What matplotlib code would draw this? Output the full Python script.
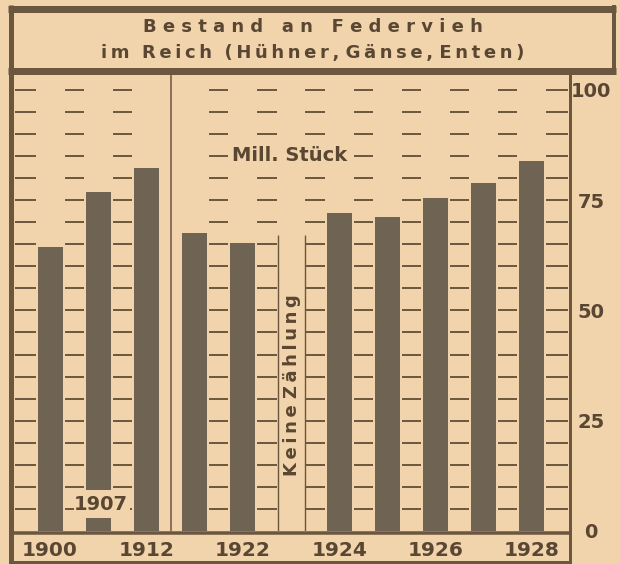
import matplotlib.pyplot as plt
from matplotlib.lines import Line2D
from matplotlib.patches import Rectangle

# Bestand an Federvieh (Mill. Stück)
years = ['1900', '1907', '1912', '1921', '1922', '1923', '1924', '1925', '1926', '1927', '1928']
values = [64.4, 76.9, 82.3, 67.6, 65.3, None, 72.1, 71.2, 75.5, 78.9, 83.9]
xlabels = ['1900', '1912', '1922', '1924', '1926', '1928']
xlabel_pos = [0, 2, 4, 6, 8, 10]
yticks = [0, 25, 50, 75, 100]
ylabels = ['0', '25', '50', '75', '100']

W, H = 620, 564
paper = '#f1d4ab'
ink = '#6b563f'
bar_c = '#6f6354'
txt_c = '#5a4733'

fig = plt.figure(figsize=(W / 100, H / 100), dpi=100)
fig.patch.set_facecolor(paper)


def fx(x):
    return x / W


def fy(y):
    return 1 - y / H


def fline(x0, y0, x1, y1, lw):
    fig.add_artist(Line2D([fx(x0), fx(x1)], [fy(y0), fy(y1)], color=ink,
                          lw=lw * 0.72, solid_capstyle='butt'))


def spaced(s, sep='\u2009'):
    # buchstaben auseinanderziehen wie im original
    return ' '.join(sep.join(w) for w in s.split(' '))


ax = fig.add_axes([fx(13), fy(531), fx(570) - fx(13), fy(74) - fy(531)])
ax.set_facecolor(paper)
ax.set_xlim(-0.77, 10.79)
ax.set_ylim(0, 103.6)
for s in ax.spines.values():
    s.set_visible(False)

# balken
bw = 0.52
xs = [i for i, v in enumerate(values) if v is not None]
vs = [v for v in values if v is not None]
ax.bar(xs, vs, width=bw, color=bar_c, zorder=3)

# gitter nur in den lücken zwischen den balken
rows = list(range(5, 101, 5))
gaps = [(-0.77, -bw / 2)]
for i in range(10):
    if i == 2:
        continue
    gaps.append((i + bw / 2, i + 1 - bw / 2))
gaps.append((10 + bw / 2, 10.79))
for g0, g1 in gaps:
    ax.hlines(rows, g0 + 0.04, g1 - 0.04, color=ink, lw=1.4, zorder=2)

# trennlinie
ax.axvline(2.5, color=ink, lw=1.1, zorder=2)

# keine zählung 1923
ax.add_patch(Rectangle((4.74, 0), 0.54, 67, facecolor=paper, edgecolor='none', zorder=2.5))
ax.vlines([4.74, 5.28], 0, 67, color=ink, lw=1.0, zorder=3)
ax.text(5.02, 33, spaced('Keine Zählung'), rotation=90, ha='center', va='center',
        fontsize=13, fontweight='bold', color=txt_c, zorder=4)

# 1907 beschriftung im balken
ax.add_patch(Rectangle((0.49, 2.9), 1.17, 6.4, facecolor=paper, edgecolor='none', zorder=4))
ax.text(1.06, 6.1, '1907', ha='center', va='center', fontsize=14,
        fontweight='bold', color=txt_c, zorder=5)

ax.text(4.98, 85.2, 'Mill. Stück', ha='center', va='center', fontsize=14,
        fontweight='bold', color=txt_c, zorder=5,
        bbox=dict(facecolor=paper, edgecolor='none', pad=1.0))

ax.set_xticks(xlabel_pos, xlabels)
ax.yaxis.tick_right()
ax.set_yticks(yticks, ylabels)
ax.tick_params(axis='x', length=0, pad=7, labelsize=14.5, labelcolor=txt_c)
ax.tick_params(axis='y', length=0, pad=15, labelsize=14, labelcolor=txt_c)
for lab in ax.get_xticklabels() + ax.get_yticklabels():
    lab.set_fontweight('heavy')
for lab in ax.get_yticklabels():
    lab.set_horizontalalignment('center')

# rahmen
fline(8, 8.5, 616, 8.5, 7)
fline(8, 70.5, 616, 70.5, 7)
fline(11, 5, 11, 564, 5)
fline(614, 5, 614, 74, 4)
fline(570, 74, 570, 564, 3)
fline(11, 532.5, 570, 532.5, 3.5)
fline(11, 561.5, 570, 561.5, 3)

fig.text(fx(313), fy(27), 'B e s t a n d   a n   F e d e r v i e h', ha='center',
         va='center', fontsize=13, fontweight='heavy', color=txt_c)
fig.text(fx(313), fy(53), spaced('im  Reich  (Hühner, Gänse, Enten)'), ha='center',
         va='center', fontsize=13, fontweight='heavy', color=txt_c)

fig.savefig('out.png', dpi=100, facecolor=paper)
